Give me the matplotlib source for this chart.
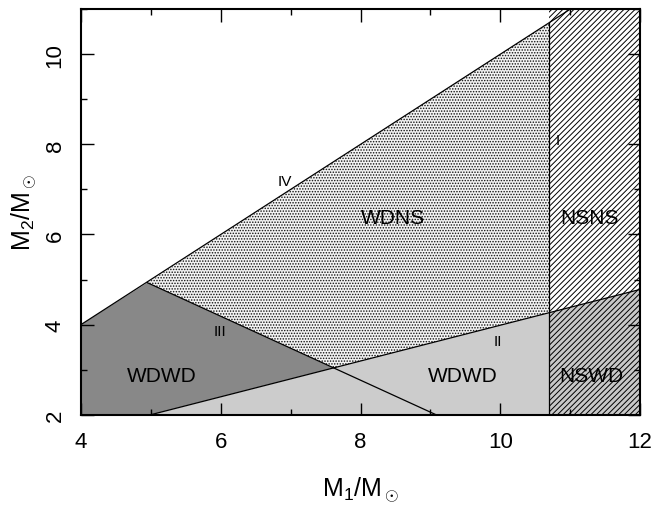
import numpy as np
import matplotlib
matplotlib.use("Agg")
import matplotlib.pyplot as plt
from matplotlib.ticker import MultipleLocator

plt.rcParams['font.family'] = ['Liberation Sans', 'DejaVu Sans']
plt.rcParams['mathtext.fontset'] = 'custom'
plt.rcParams['mathtext.rm'] = 'Liberation Sans'
plt.rcParams['mathtext.it'] = 'Liberation Sans'
plt.rcParams['hatch.linewidth'] = 0.7

# boundary lines (M1, M2 in solar masses)
ns_limit = 10.7
line_iv_x = [4.0, 11.0]
line_iv_y = [4.0, 11.0]
line_ii_x = [5.0, 12.0]
line_ii_y = [2.0, 4.78]
line_iii_x = [4.95, 9.08]
line_iii_y = [4.93, 2.0]

xlim = (4, 12)
ylim = (2, 11)

regions = ["WDNS", "NSNS", "WDWD", "WDWD", "NSWD"]
region_pos = [(8.46, 6.37), (11.28, 6.37), (5.16, 2.86), (9.47, 2.86), (11.30, 2.86)]
numerals = ["IV", "III", "II", "I"]
numeral_pos = [(6.92, 7.19), (5.99, 3.86), (9.96, 3.64), (10.83, 8.10)]


def lin(xs, ys):
    k = (ys[1] - ys[0]) / (xs[1] - xs[0])
    return k, ys[0] - k * xs[0]


k2, b2 = lin(line_ii_x, line_ii_y)
k3, b3 = lin(line_iii_x, line_iii_y)
x_cross = (b3 - b2) / (k2 - k3)
y_cross = k2 * x_cross + b2
y_ii_ns = k2 * ns_limit + b2

fig = plt.figure(figsize=(6.63, 5.10), dpi=100)
ax = fig.add_axes([0.1222, 0.1849, 0.8431, 0.7951])

# dark WDWD
ax.fill([xlim[0], xlim[0], line_iii_x[0], x_cross, line_ii_x[0]],
        [ylim[0], line_iv_y[0], line_iii_y[0], y_cross, line_ii_y[0]],
        color='#888888', lw=0, zorder=1)
# light WDWD
ax.fill([line_ii_x[0], ns_limit, ns_limit],
        [line_ii_y[0], ylim[0], y_ii_ns],
        color='#cccccc', lw=0, zorder=1)
# NSWD grey
ax.fill([ns_limit, xlim[1], xlim[1], ns_limit],
        [ylim[0], ylim[0], line_ii_y[1], y_ii_ns],
        color='#c8c8c8', lw=0, zorder=1)
# WDNS stipple
ax.fill([line_iii_x[0], ns_limit, ns_limit, x_cross],
        [line_iii_y[0], ns_limit, y_ii_ns, y_cross],
        facecolor='#f3f3f3', edgecolor='#111111', hatch='......', lw=0, zorder=1)
# NS hatch
ax.fill([ns_limit, xlim[1], xlim[1], ns_limit],
        [ylim[0], ylim[0], ylim[1], ylim[1]],
        facecolor='none', edgecolor='black', hatch='//////', lw=0, zorder=2)

lw = 0.9
ax.plot(line_iv_x, line_iv_y, color='black', lw=lw, zorder=3)
ax.plot(line_ii_x, line_ii_y, color='black', lw=lw, zorder=3)
ax.plot(line_iii_x, line_iii_y, color='black', lw=lw, zorder=3)
ax.plot([ns_limit, ns_limit], [ylim[0], ns_limit], color='black', lw=lw, zorder=3)

for name, (x, y) in zip(regions, region_pos):
    ax.text(x, y, name, fontsize=15, ha='center', va='center', zorder=4)
for name, (x, y) in zip(numerals, numeral_pos):
    ax.text(x, y, name, fontsize=11, ha='center', va='center', zorder=4)

ax.set_xlim(*xlim)
ax.set_ylim(*ylim)
ax.xaxis.set_major_locator(MultipleLocator(2))
ax.xaxis.set_minor_locator(MultipleLocator(1))
ax.yaxis.set_major_locator(MultipleLocator(2))
ax.yaxis.set_minor_locator(MultipleLocator(1))
ax.tick_params(which='both', direction='in', top=True, right=True, width=1.0, labelsize=16)
ax.tick_params(which='major', length=9)
ax.tick_params(which='minor', length=4.5)
ax.tick_params(axis='x', pad=12)
ax.tick_params(axis='y', pad=11, labelrotation=90)
for lab in ax.get_yticklabels():
    lab.set_va('center')
for s in ax.spines.values():
    s.set_linewidth(1.5)
    s.set_zorder(5)

ax.set_xlabel(r'M$_1$/M$_\odot$', fontsize=18, labelpad=16)
ax.set_ylabel(r'M$_2$/M$_\odot$', fontsize=18, labelpad=4)

fig.savefig('out.png', dpi=100)
